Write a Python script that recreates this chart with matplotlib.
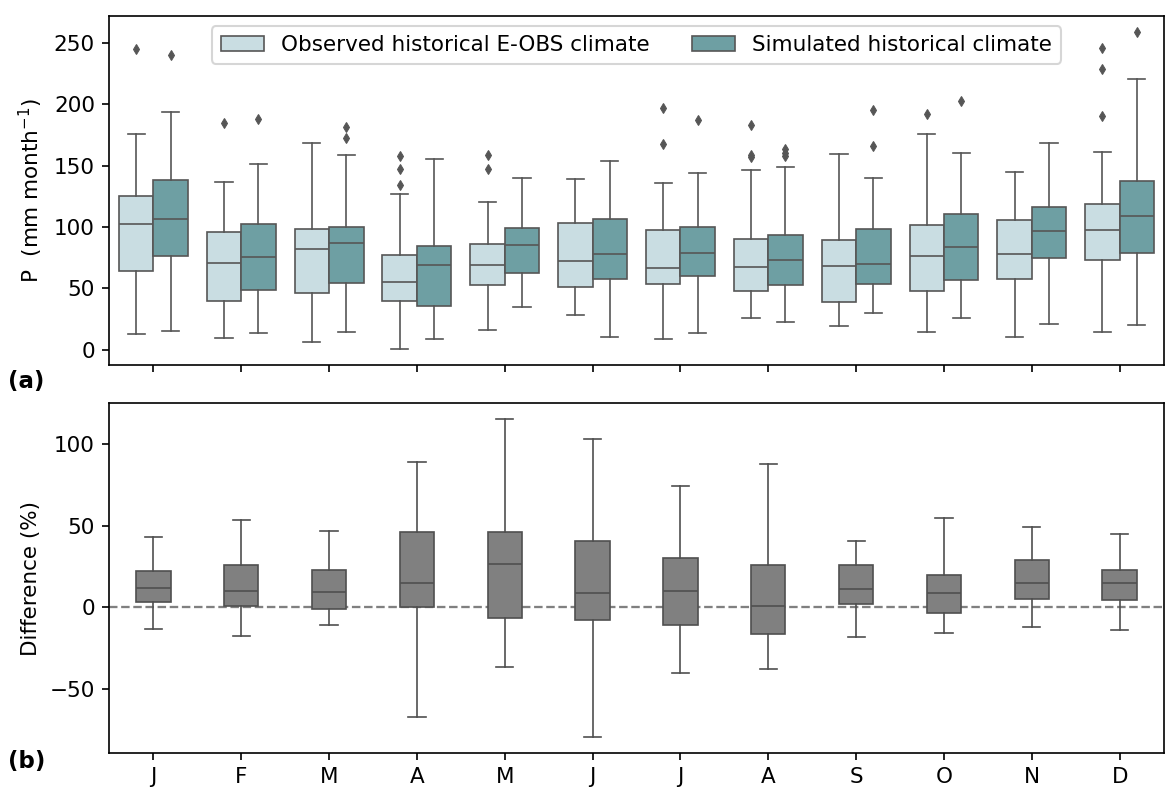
import matplotlib
matplotlib.use("Agg")
import matplotlib.pyplot as plt
from matplotlib.patches import Patch

months = ["J", "F", "M", "A", "M", "J", "J", "A", "S", "O", "N", "D"]

# observed historical E-OBS climate (mm month-1)
obs_whislo = [12.8, 9.5, 6.5, 0.5, 16.0, 28.5, 8.4, 26.0, 19.0, 14.7, 10.0, 14.7]
obs_q1 = [63.9, 39.4, 46.5, 39.9, 53.0, 51.1, 53.5, 47.6, 38.9, 47.8, 57.3, 72.8]
obs_med = [102.7, 70.7, 82.3, 55.4, 68.8, 72.6, 66.6, 67.1, 67.9, 76.4, 78.0, 97.8]
obs_q3 = [125.0, 95.7, 98.4, 76.9, 86.1, 103.0, 97.6, 90.0, 89.4, 101.4, 105.4, 118.8]
obs_whishi = [176.0, 137.0, 168.5, 127.2, 120.7, 139.4, 135.9, 146.5, 159.8, 175.8, 145.1, 161.1]
obs_fliers = [[245.0], [185.0], [], [157.9, 147.0, 134.5], [158.7, 147.3], [],
              [196.7, 167.9], [183.3, 158.6, 157.4], [], [192.4], [], [245.9, 228.3, 190.8]]

# simulated historical climate (mm month-1)
sim_whislo = [15.5, 13.6, 14.7, 8.4, 35.0, 10.6, 13.6, 22.3, 29.6, 26.1, 20.9, 20.1]
sim_q1 = [76.0, 48.6, 54.3, 35.3, 62.5, 57.3, 59.8, 52.7, 53.5, 56.5, 75.0, 78.8]
sim_med = [106.8, 75.8, 86.7, 68.8, 85.6, 78.0, 78.8, 73.1, 70.1, 83.7, 96.7, 108.7]
sim_q3 = [138.3, 102.4, 99.7, 84.8, 98.9, 106.5, 100.3, 93.2, 98.1, 110.6, 116.3, 137.5]
sim_whishi = [193.8, 151.0, 158.7, 155.7, 140.2, 154.0, 144.0, 148.6, 140.0, 160.6, 168.8, 220.9]
sim_fliers = [[239.7], [187.8], [181.5, 172.6], [], [], [],
              [187.0], [163.3, 160.3, 157.6], [195.0, 165.8], [202.4], [], [259.2]]

# difference simulated vs observed (%)
diff_whislo = [-13.5, -17.3, -10.6, -66.9, -36.5, -79.2, -40.2, -37.8, -18.2, -15.9, -11.8, -13.7]
diff_q1 = [3.5, 1.0, -0.8, 0.2, -6.5, -7.6, -10.8, -16.5, 2.2, -3.5, 5.1, 4.3]
diff_med = [12.0, 10.2, 9.2, 14.7, 26.7, 8.6, 10.2, 1.0, 11.0, 9.0, 14.7, 14.7]
diff_q3 = [22.0, 26.1, 22.7, 45.9, 46.3, 40.4, 30.2, 25.7, 25.7, 20.0, 29.2, 22.9]
diff_whishi = [43.3, 53.5, 46.7, 89.2, 115.1, 102.7, 74.3, 87.8, 40.6, 54.7, 49.0, 44.7]

OBS_COLOR = "#c9dde2"
SIM_COLOR = "#6e9fa3"
LINE_TOP = "#565656"
DIFF_COLOR = "#808080"
LINE_BOT = "#4f4f4f"


def make_stats(lo, q1, med, q3, hi, fliers=None):
    stats = []
    for i in range(len(med)):
        stats.append(dict(whislo=lo[i], q1=q1[i], med=med[i], q3=q3[i], whishi=hi[i],
                          fliers=fliers[i] if fliers is not None else []))
    return stats


def draw_boxes(ax, stats, positions, width, face, line):
    ax.bxp(stats, positions=positions, widths=width, patch_artist=True,
           showfliers=True, manage_ticks=False,
           boxprops=dict(facecolor=face, edgecolor=line, linewidth=0.8),
           medianprops=dict(color=line, linewidth=0.8),
           whiskerprops=dict(color=line, linewidth=0.8),
           capprops=dict(color=line, linewidth=0.8),
           flierprops=dict(marker="d", markerfacecolor=line, markeredgecolor=line,
                           markersize=3.3, markeredgewidth=0.5, linestyle="none"))


plt.rcParams["font.size"] = 10.3

fig = plt.figure(figsize=(1166 / 150, 795 / 150), dpi=150)
ax1 = fig.add_axes([0.0939, 0.5409, 0.904, 0.4394])
ax2 = fig.add_axes([0.0939, 0.0532, 0.904, 0.4395], sharex=ax1)

x = list(range(len(months)))
w = 0.392

draw_boxes(ax1, make_stats(obs_whislo, obs_q1, obs_med, obs_q3, obs_whishi, obs_fliers),
           [p - 0.196 for p in x], w, OBS_COLOR, LINE_TOP)
draw_boxes(ax1, make_stats(sim_whislo, sim_q1, sim_med, sim_q3, sim_whishi, sim_fliers),
           [p + 0.196 for p in x], w, SIM_COLOR, LINE_TOP)

ax1.set_ylabel("P  (mm month$^{-1}$)")
ax1.set_xlim(-0.5, len(months) - 0.5)
ax1.tick_params(labelbottom=False)
handles = [Patch(facecolor=OBS_COLOR, edgecolor=LINE_TOP, linewidth=0.8,
                 label="Observed historical E-OBS climate"),
           Patch(facecolor=SIM_COLOR, edgecolor=LINE_TOP, linewidth=0.8,
                 label="Simulated historical climate")]
ax1.legend(handles=handles, loc="upper center", ncol=2)

draw_boxes(ax2, make_stats(diff_whislo, diff_q1, diff_med, diff_q3, diff_whishi),
           x, w, DIFF_COLOR, LINE_BOT)
ax2.axhline(0, color="grey", linestyle="--", linewidth=1.1, zorder=0.5)
ax2.set_ylabel("Difference (%)")
ax2.set_xticks(x)
ax2.set_xticklabels(months)
ax2.set_xlim(-0.5, len(months) - 0.5)

fig.text(0.007, 0.52, "(a)", fontweight="bold", fontsize=11, va="center")
fig.text(0.007, 0.042, "(b)", fontweight="bold", fontsize=11, va="center")

fig.savefig("out.png", dpi=150)
